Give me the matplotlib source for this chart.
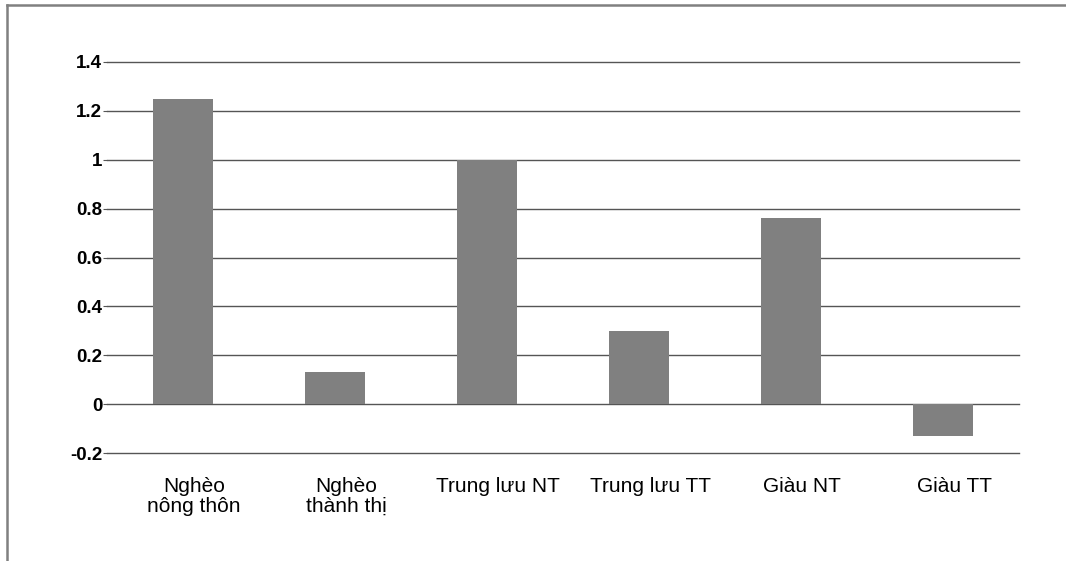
import matplotlib.pyplot as plt
from matplotlib.lines import Line2D

# data
categories = ['Nghèo\nnông thôn', 'Nghèo\nthành thị', 'Trung lưu NT',
              'Trung lưu TT', 'Giàu NT', 'Giàu TT']
values = [1.25, 0.13, 1.0, 0.30, 0.76, -0.13]
yticks = [-0.2, 0, 0.2, 0.4, 0.6, 0.8, 1.0, 1.2, 1.4]
ytick_labels = ['-0.2', '0', '0.2', '0.4', '0.6', '0.8', '1', '1.2', '1.4']

plt.rcParams['font.family'] = ['Liberation Sans', 'DejaVu Sans']

W, H = 1066, 561
fig = plt.figure(figsize=(W / 100, H / 100), dpi=100)
ax = fig.add_axes([107 / W, (H - 453) / H, 912 / W, 391 / H])

x = range(len(categories))
ax.bar(x, values, width=0.4, color='#808080', zorder=2)

ax.set_xlim(-0.5, len(categories) - 0.5)
ax.set_ylim(-0.2, 1.4)
ax.set_yticks(yticks)
ax.set_yticklabels(ytick_labels, fontsize=13.5, fontweight='bold')
ax.set_xticks([])

# category labels sit slightly right of the bar centres in the original
for i, cat in enumerate(categories):
    ax.annotate(cat, xy=(i, 0), xycoords=ax.get_xaxis_transform(),
                xytext=(8, -17), textcoords='offset points',
                ha='center', va='top', fontsize=15, linespacing=1.1,
                annotation_clip=False)

for y in yticks:
    ax.axhline(y, color='#555555', lw=1, zorder=1, clip_on=False)

for spine in ax.spines.values():
    spine.set_visible(False)
ax.tick_params(axis='y', length=3, color='#555555', pad=0.5)

# outer frame (top and left only)
fig.add_artist(Line2D([6.5 / W, 1], [(H - 5) / H] * 2, color='#808080', lw=1.8))
fig.add_artist(Line2D([6.5 / W] * 2, [0, (H - 5) / H], color='#808080', lw=1.8))

fig.savefig('out.png', dpi=100)
